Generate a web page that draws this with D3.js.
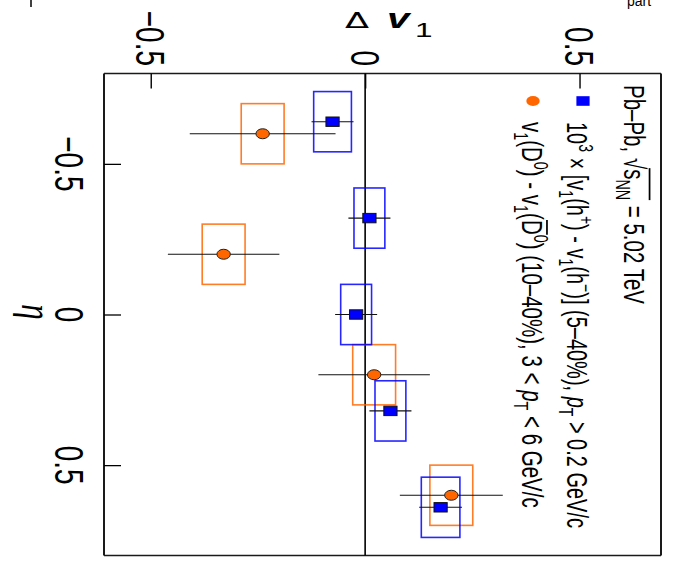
<!DOCTYPE html>
<html>
<head>
<meta charset="utf-8">
<script src="https://cdn.jsdelivr.net/npm/d3@7"></script>
<style>
  html, body { margin: 0; padding: 0; background: #fff; }
  svg { display: block; }
  text { white-space: pre; }
</style>
</head>
<body>
<svg id="chart" width="679" height="563"></svg>
<script>
// ---- data ----------------------------------------------------------------
const etaTicks = [-0.5, 0, 0.5];
const dv1Ticks = [-0.5, 0, 0.5];
const etaTickLabels = ["\u22120.5", "0", "0.5"];
const dv1TickLabels = ["\u22120.5", "0", "0.5"];

// 10^3 x [v1(h+) - v1(h-)], 5-40%
const hadronEta  = [-0.64, -0.32, 0.0, 0.32, 0.64];
const hadronDv1  = [-0.076, 0.010, -0.021, 0.059, 0.176];
const hadronStat = [0.049, 0.049, 0.049, 0.049, 0.050];
const hadronSyst = [0.044, 0.036, 0.036, 0.036, 0.045];

// v1(D0) - v1(D0bar), 10-40%, 3 < pT < 6 GeV/c
const dmesonEta  = [-0.6, -0.2, 0.2, 0.6];
const dmesonDv1  = [-0.239, -0.330, 0.021, 0.201];
const dmesonStat = [0.170, 0.130, 0.130, 0.120];
const dmesonSyst = [0.050, 0.050, 0.050, 0.050];

const etaHalfWidth = 0.1;

// ---- layout ---------------------------------------------------------------
const frame = { left: 104, right: 661, top: 73.5, bottom: 555.5 };
const STRETCH = 1.45;           // glyph-height stretch of the rotated text
const FONT = "'Liberation Sans', Arial, Helvetica, sans-serif";
const BLUE = "#0000ff", ORANGE = "#ff6600";

const x = d3.scaleLinear().domain([-0.609, 0.690]).range([frame.left, frame.right]);
const y = d3.scaleLinear().domain([-0.8, 0.8]).range([frame.top, frame.bottom]);

const svg = d3.select("#chart");

// text that reads top-to-bottom
function rotText(px, py, anchor, size) {
  const g = svg.append("g")
    .attr("transform", `translate(${px},${py}) rotate(90) scale(1,${STRETCH})`);
  const t = g.append("text")
    .attr("text-anchor", anchor)
    .attr("font-family", FONT)
    .attr("font-size", size)
    .attr("fill", "#000");
  return { g, t };
}

// rich text made of parts {t, sup, sub, it, over}
function rich(obj, parts, size) {
  let shift = 0, idx = 0;
  const overs = [];
  parts.forEach(p => {
    const target = p.sup ? -0.42 * size : p.sub ? 0.28 * size : 0;
    const ts = obj.t.append("tspan")
      .attr("dy", target - shift)
      .attr("font-size", (p.sup || p.sub) ? size * 0.7 : size)
      .text(p.t);
    if (p.it) ts.attr("font-style", "italic");
    if (p.over) overs.push({ start: idx, end: idx + p.over - 1, h: p.overH || 0.84, pad: p.overPad || 0 });
    shift = target;
    idx += p.t.length;
  });
  const node = obj.t.node();
  overs.forEach(o => {
    const a = node.getExtentOfChar(o.start);
    const b = node.getExtentOfChar(o.end);
    obj.g.append("line")
      .attr("x1", a.x - o.pad).attr("x2", b.x + b.width)
      .attr("y1", -o.h * size).attr("y2", -o.h * size)
      .attr("stroke", "#000").attr("stroke-width", 1.2);
  });
}

// ---- frame, zero line, ticks -----------------------------------------------
const edges = [
  [frame.left, frame.top, frame.right, frame.top, 1.4],
  [frame.left, frame.bottom, frame.right, frame.bottom, 1.4],
  [frame.left, frame.top, frame.left, frame.bottom, 2],
  [frame.right, frame.top, frame.right, frame.bottom, 2]
];
svg.append("g").selectAll("line").data(edges).join("line")
  .attr("x1", d => d[0]).attr("y1", d => d[1])
  .attr("x2", d => d[2]).attr("y2", d => d[3])
  .attr("stroke", "#1a1a1a").attr("stroke-width", d => d[4]);

svg.append("line")
  .attr("x1", x(0)).attr("x2", x(0))
  .attr("y1", frame.top).attr("y2", frame.bottom)
  .attr("stroke", "#000").attr("stroke-width", 1.6);

const topAxis = d3.axisTop(x).tickValues(dv1Ticks).tickSizeInner(-15).tickSizeOuter(0).tickFormat("");
svg.append("g").attr("transform", `translate(0,${frame.top})`).call(topAxis)
  .call(g => g.select(".domain").remove())
  .call(g => g.selectAll("line").attr("stroke", "#000").attr("stroke-width", 1.4));

const leftAxis = d3.axisLeft(y).tickValues(etaTicks).tickSizeInner(-17).tickSizeOuter(0).tickFormat("");
svg.append("g").attr("transform", `translate(${frame.left},0)`).call(leftAxis)
  .call(g => g.select(".domain").remove())
  .call(g => g.selectAll("line").attr("stroke", "#000").attr("stroke-width", 1.3));

// tick labels
dv1Ticks.forEach((v, i) => {
  const o = rotText(x(v), 66, "end", 28);
  o.t.attr("dy", "0.36em").text(dv1TickLabels[i]);
});
etaTicks.forEach((v, i) => {
  const o = rotText(55, y(v), "middle", 28);
  o.t.text(etaTickLabels[i]);
});

// axis titles
{
  const o = rotText(22, 312, "middle", 31);
  o.t.attr("font-family", "'Liberation Serif', 'DejaVu Serif', serif")
     .attr("font-style", "italic").text("\u03b7");
}
{
  // Δ v_1, drawn horizontally above the frame
  svg.append("text").attr("transform", "translate(345,28) scale(1.6,1)")
    .attr("font-family", "'DejaVu Sans', sans-serif").attr("font-size", 22)
    .attr("fill", "#000").text("\u0394");
  const g = svg.append("g").attr("transform", "translate(0,28) scale(1.5,1)");
  const t = g.append("text").attr("font-family", FONT).attr("fill", "#000");
  t.append("tspan").attr("x", 387 / 1.5).attr("font-size", 27).attr("font-style", "italic")
    .attr("font-weight", "bold").text("v");
  t.append("tspan").attr("x", 415 / 1.5).attr("dy", 9).attr("font-size", 21).text("1");
}

// ---- systematic boxes ------------------------------------------------------
function boxes(eta, dv, syst, color) {
  svg.append("g").selectAll("rect").data(eta).join("rect")
    .attr("x", (d, i) => x(dv[i] - syst[i]))
    .attr("width", (d, i) => x(dv[i] + syst[i]) - x(dv[i] - syst[i]))
    .attr("y", d => y(d - etaHalfWidth))
    .attr("height", d => y(d + etaHalfWidth) - y(d - etaHalfWidth))
    .attr("fill", "none").attr("stroke", color).attr("stroke-width", 1.6)
    .attr("stroke-opacity", 0.85);
}
boxes(dmesonEta, dmesonDv1, dmesonSyst, ORANGE);
boxes(hadronEta, hadronDv1, hadronSyst, BLUE);

// ---- statistical error bars -------------------------------------------------
function bars(eta, dv, stat) {
  svg.append("g").selectAll("line").data(eta).join("line")
    .attr("x1", (d, i) => x(dv[i] - stat[i]))
    .attr("x2", (d, i) => x(dv[i] + stat[i]))
    .attr("y1", d => y(d)).attr("y2", d => y(d))
    .attr("stroke", "#111").attr("stroke-width", 1.1);
}
bars(dmesonEta, dmesonDv1, dmesonStat);
bars(hadronEta, hadronDv1, hadronStat);

// ---- markers -----------------------------------------------------------------
svg.append("g").selectAll("ellipse").data(dmesonEta).join("ellipse")
  .attr("cx", (d, i) => x(dmesonDv1[i])).attr("cy", d => y(d))
  .attr("rx", 6.7).attr("ry", 5)
  .attr("fill", ORANGE).attr("stroke", "#222").attr("stroke-width", 1);

svg.append("g").selectAll("rect").data(hadronEta).join("rect")
  .attr("x", (d, i) => x(hadronDv1[i]) - 6.6).attr("y", d => y(d) - 4.7)
  .attr("width", 13.2).attr("height", 9.4)
  .attr("fill", BLUE).attr("stroke", "#111").attr("stroke-width", 1);

// ---- legend ------------------------------------------------------------------
svg.append("rect").attr("x", 583 - 6.6).attr("y", 101 - 4.8)
  .attr("width", 13.2).attr("height", 9.6).attr("fill", BLUE);
svg.append("ellipse").attr("cx", 533).attr("cy", 101)
  .attr("rx", 6.7).attr("ry", 5).attr("fill", ORANGE);

const LS = 20.5;
rich(rotText(624, 85, "start", LS), [
  { t: "Pb\u2013Pb, " },
  { t: "\u221a" },
  { t: "s", over: 3, overH: 0.86, overPad: 1 },
  { t: "NN", sub: true },
  { t: " = 5.02 TeV" }
], LS);

rich(rotText(567, 122, "start", 20), [
  { t: "10" }, { t: "3", sup: true },
  { t: " \u00d7 [v" }, { t: "1", sub: true },
  { t: "(h" }, { t: "+", sup: true },
  { t: ") - v" }, { t: "1", sub: true },
  { t: "(h" }, { t: "\u2212", sup: true },
  { t: ")] (5\u201340%), " },
  { t: "p", it: true }, { t: "T", sub: true },
  { t: " > 0.2 GeV/c" }
], 20);

rich(rotText(522, 122, "start", LS), [
  { t: "v" }, { t: "1", sub: true },
  { t: "(D" }, { t: "0", sup: true },
  { t: ") - v" }, { t: "1", sub: true },
  { t: "(" }, { t: "D", over: 1 }, { t: "0", sup: true },
  { t: ") (10\u201340%), 3 < " },
  { t: "p", it: true }, { t: "T", sub: true },
  { t: " < 6 GeV/c" }
], LS);

// fragments of neighbouring labels at the upper edge
svg.append("text").attr("x", 627).attr("y", 6).attr("font-family", FONT)
  .attr("font-size", 14).attr("fill", "#000").text("part");
svg.append("line").attr("x1", 31).attr("x2", 31).attr("y1", 0).attr("y2", 7)
  .attr("stroke", "#000").attr("stroke-width", 1.5);
</script>
</body>
</html>
